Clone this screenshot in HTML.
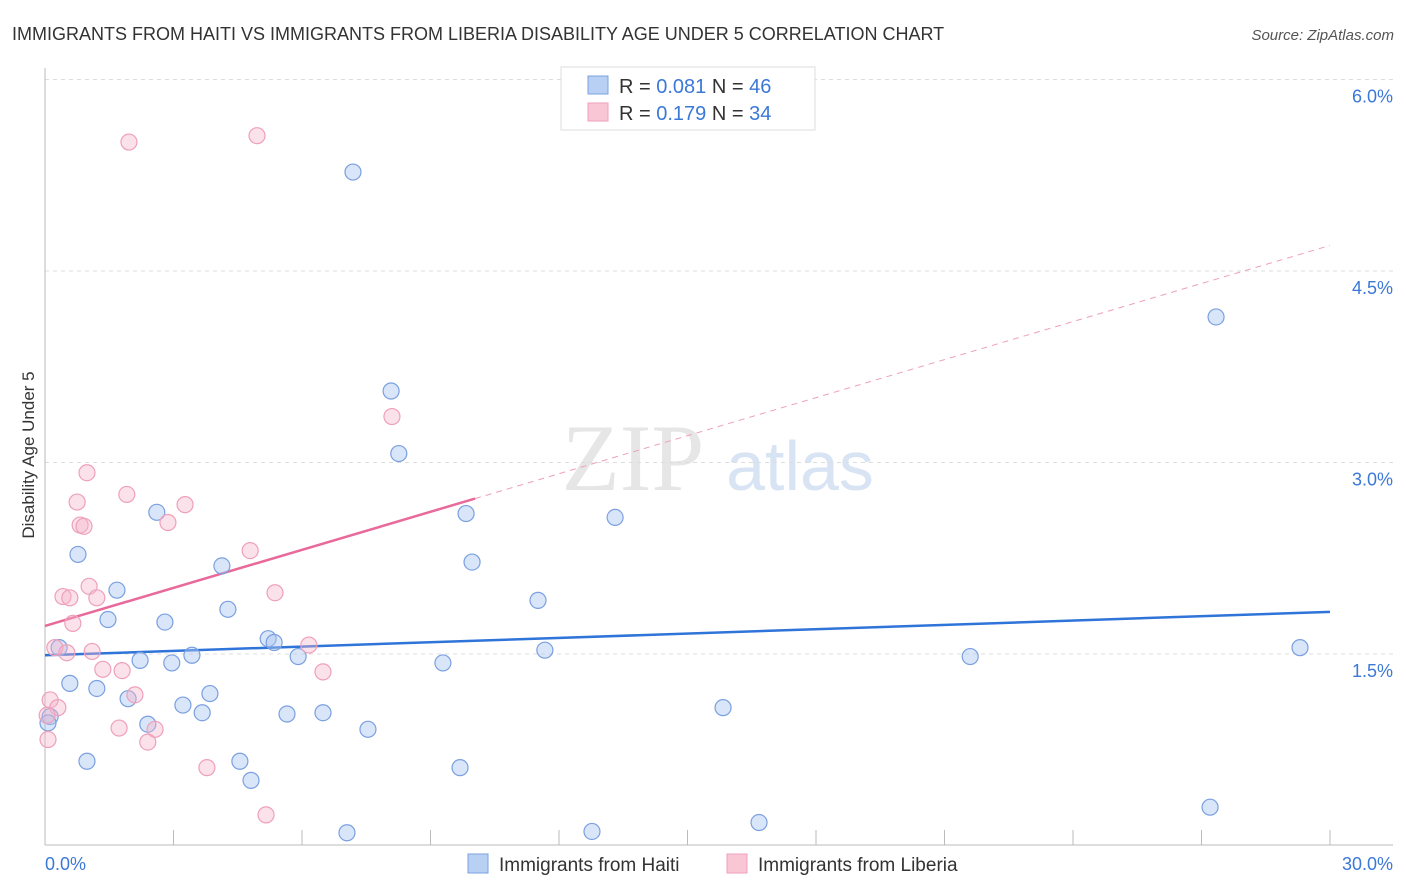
<!DOCTYPE html>
<html><head><meta charset="utf-8"><style>
body{margin:0;background:#fff;font-family:"Liberation Sans",sans-serif}
svg{display:block}
</style></head><body>
<svg id="chart" width="1406" height="892">
<text x="12" y="40" font-size="18" fill="#333">IMMIGRANTS FROM HAITI VS IMMIGRANTS FROM LIBERIA DISABILITY AGE UNDER 5 CORRELATION CHART</text>
<text x="1394" y="40" font-size="15" fill="#555" font-style="italic" text-anchor="end">Source: ZipAtlas.com</text>
<text transform="translate(34,455) rotate(-90)" font-size="17" fill="#333" text-anchor="middle">Disability Age Under 5</text>
<g><text x="633" y="490" font-size="95" fill="#e6e6e6" font-family="Liberation Serif" text-anchor="middle">ZIP</text><text x="800" y="490" font-size="70" fill="#d8e4f4" text-anchor="middle">atlas</text></g>
<g id="grid"></g><g id="axes"></g><g id="trend"></g><g id="pts"></g>
<g>
<rect x="561" y="67" width="254" height="63" fill="#fff" stroke="#ddd"/>
<rect x="588" y="76" width="20" height="18" fill="#b9d0f5" stroke="#7aa0e0"/>
<rect x="588" y="103" width="20" height="18" fill="#f9c6d6" stroke="#eea0ba"/>
<text x="619" y="93" font-size="20" fill="#333">R = <tspan fill="#3b78d8">0.081</tspan>   N = <tspan fill="#3b78d8">46</tspan></text>
<text x="619" y="120" font-size="20" fill="#333">R =  <tspan fill="#3b78d8">0.179</tspan>   N = <tspan fill="#3b78d8">34</tspan></text>
</g>
<g>
<rect x="468" y="854" width="20" height="19" fill="#b9d0f5" stroke="#7aa0e0"/>
<text x="499" y="871" font-size="19" fill="#333">Immigrants from Haiti</text>
<rect x="727" y="854" width="20" height="19" fill="#f9c6d6" stroke="#eea0ba"/>
<text x="758" y="871" font-size="19" fill="#333">Immigrants from Liberia</text>
</g>
</svg>
<script>
const yTicks=[1.5,3.0,4.5,6.0];
const yTickLabels=["1.5%","3.0%","4.5%","6.0%"];
const xTickLabels=["0.0%","30.0%"];
const haitiX=[7.19,27.34,8.08,8.26,2.61,9.83,13.31,0.77,9.97,4.13,1.68,11.51,4.27,1.47,2.80,5.21,5.35,0.33,11.67,3.43,5.91,2.22,2.96,9.29,21.60,29.30,0.58,1.21,1.94,3.85,3.22,3.67,5.65,6.49,0.12,0.07,2.40,7.54,15.83,0.98,4.55,9.69,4.81,27.20,16.67,7.05,12.77];
const haitiY=[5.275,4.14,3.56,3.07,2.61,2.60,2.57,2.28,2.22,2.19,2.00,1.92,1.85,1.77,1.75,1.62,1.59,1.55,1.53,1.49,1.48,1.45,1.43,1.43,1.48,1.55,1.27,1.23,1.15,1.19,1.10,1.04,1.03,1.04,1.01,0.96,0.95,0.91,1.08,0.66,0.66,0.61,0.51,0.30,0.18,0.10,0.11];
const liberiaX=[1.96,4.95,8.10,0.98,1.91,0.75,3.27,2.87,0.82,0.91,4.79,1.03,0.42,0.58,1.21,5.37,0.65,0.23,6.16,0.51,1.10,1.35,1.80,6.49,2.10,0.12,0.30,0.05,1.73,2.57,2.40,0.07,3.78,5.16];
const liberiaY=[5.51,5.56,3.36,2.92,2.75,2.69,2.67,2.53,2.51,2.50,2.31,2.03,1.95,1.94,1.94,1.98,1.74,1.55,1.57,1.51,1.52,1.38,1.37,1.36,1.18,1.14,1.08,1.02,0.92,0.91,0.81,0.83,0.61,0.24];
const haitiTrend=[1.49,1.83];
const liberiaTrend=[1.72,4.70];
const liberiaSolidEnd=10.04;
const NS="http://www.w3.org/2000/svg";
const X=v=>45+v/30*1285, Y=v=>845.5-v/1.5*191.5;
function mk(t,a,p){const e=document.createElementNS(NS,t);for(const k in a)e.setAttribute(k,a[k]);document.getElementById(p).appendChild(e);return e;}
yTicks.forEach((t,i)=>{
 const g=mk('line',{x1:45,x2:1393,y1:Y(t),y2:Y(t),stroke:'#ddd','stroke-dasharray':'4,4'},'grid');
 
 
 const l=mk('text',{x:1393,y:Y(t)+23,'font-size':18,fill:'#3b78d8','text-anchor':'end'},'grid');l.textContent=yTickLabels[i];
 
 
});
let a=mk('line',{x1:45,x2:45,y1:68,y2:845,stroke:'#bbb'},'axes');


a=mk('line',{x1:45,x2:1393,y1:845,y2:845,stroke:'#bbb'},'axes');


for(let i=0;i<=10;i++){const t=mk('line',{x1:X(i*3),x2:X(i*3),y1:830,y2:845,stroke:'#bbb'},'axes');
 
 }
let xl=mk('text',{x:45,y:870,'font-size':18,fill:'#3b78d8'},'axes');xl.textContent=xTickLabels[0];


xl=mk('text',{x:1393,y:870,'font-size':18,fill:'#3b78d8','text-anchor':'end'},'axes');xl.textContent=xTickLabels[1];


haitiX.forEach((v,i)=>{const c=mk('circle',{cx:X(v),cy:Y(haitiY[i]),r:8,fill:'rgba(170,198,242,0.45)',stroke:'#7aa0e0','stroke-width':1.2},'pts');
 
 });
liberiaX.forEach((v,i)=>{const c=mk('circle',{cx:X(v),cy:Y(liberiaY[i]),r:8,fill:'rgba(246,180,202,0.4)',stroke:'#eea0ba','stroke-width':1.2},'pts');
 
 });
const lt=v=>liberiaTrend[0]+(liberiaTrend[1]-liberiaTrend[0])*v/30;
let t=mk('line',{x1:X(0),y1:Y(haitiTrend[0]),x2:X(30),y2:Y(haitiTrend[1]),stroke:'#2f74d8','stroke-width':2.5},'trend');


t=mk('line',{x1:X(0),y1:Y(lt(0)),x2:X(liberiaSolidEnd),y2:Y(lt(liberiaSolidEnd)),stroke:'#e8699a','stroke-width':2.5},'trend');


t=mk('line',{x1:X(liberiaSolidEnd),y1:Y(lt(liberiaSolidEnd)),x2:X(30),y2:Y(lt(30)),stroke:'#eea0ba','stroke-width':1,'stroke-dasharray':'6,5'},'trend');


</script>
</body></html>
